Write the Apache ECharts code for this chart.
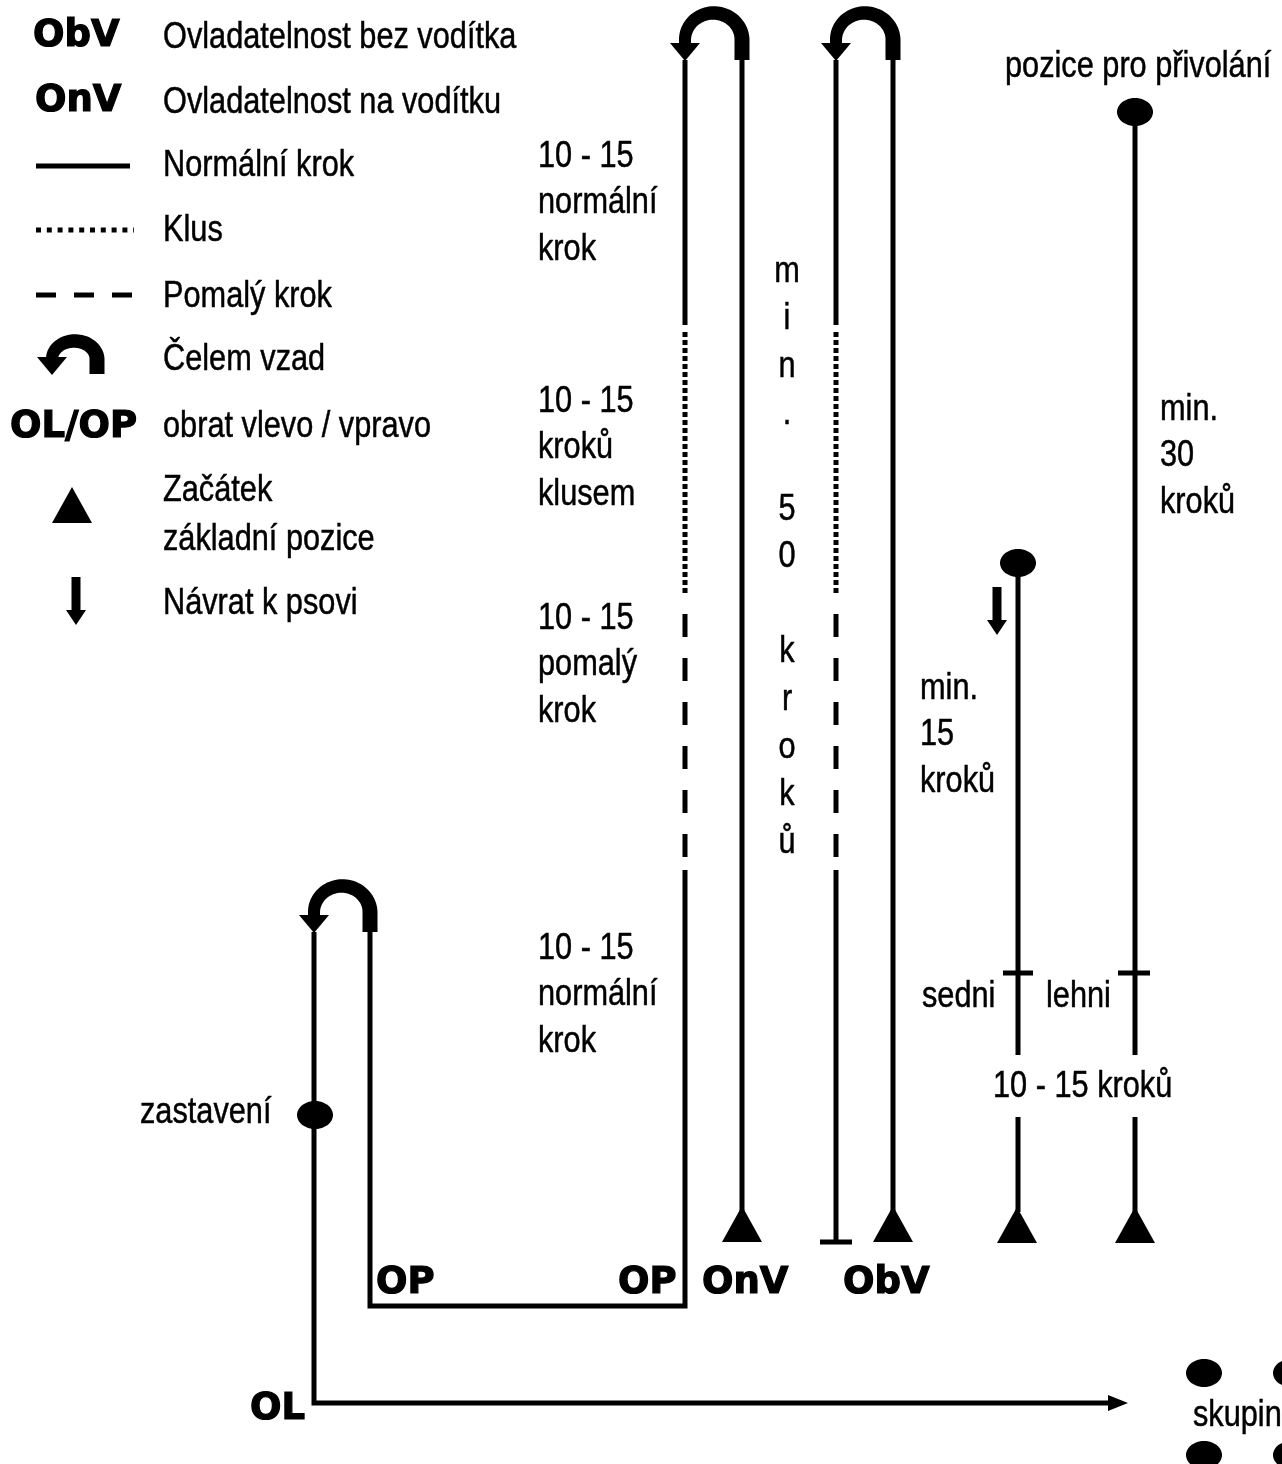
<!DOCTYPE html>
<html>
<head>
<meta charset="utf-8">
<script src="https://cdn.jsdelivr.net/npm/echarts@6/dist/echarts.min.js"></script>
<style>html,body{margin:0;padding:0;background:#fff}#c{width:1282px;height:1464px}</style>
</head>
<body>
<div id="c"></div>
<script>
// Diagram space: x 0..1282 (left→right), y 0..1464 (top→bottom)

// ---- route lines ----
const solidPaths = [
  [[36,166],[130,166]],
  [[314,932],[314,1403],[1110,1403]],
  [[370,932],[370,1306],[685,1306],[685,870]],
  [[685,325],[685,60]],
  [[742,60],[742,1212]],
  [[836,60],[836,325]],
  [[836,870],[836,1242]],
  [[820,1242],[852,1242]],
  [[893,60],[893,1212]],
  [[1018,563],[1018,1055]],
  [[1018,1117],[1018,1212]],
  [[1003,973],[1033,973]],
  [[1135,113],[1135,1055]],
  [[1135,1117],[1135,1212]],
  [[1118,973],[1150,973]]
];
const legendDotted = [[[36,230],[134,230]]];
const legendDashed = [[[36,295],[132,295]]];
const dottedPaths = [[[685,593],[685,330]], [[836,593],[836,330]]];
const dashedPaths = [[[685,857],[685,600]], [[836,857],[836,600]]];

// ---- symbols ----
const uTurns = [[685,742,7,60],[836,893,7,60],[314,370,880,932],[52,97,335,374]]; // left leg, right leg, top, bottom
const startTriangles = [[72,505],[742,1224],[893,1224],[1017,1225],[1135,1225]];
const stopBalls = [[315,1115],[1018,563],[1135,112],[1204,1373],[1291,1373],[1204,1455],[1291,1455]];
const downArrows = [[76,577,625],[997,587,635]]; // x, top, tip
const rightArrows = [[1128,1403]];

// ---- texts ----
const legendCodes = [[33,36,'ObV'],[35,101,'OnV'],[10,427,'OL/OP']];
const routeCodes = [[376,1283,'OP'],[618,1283,'OP'],[702,1283,'OnV'],[843,1283,'ObV'],[250,1409,'OL']];
const legendTexts = [
  [163,38,'Ovladatelnost bez vodítka'],[163,103,'Ovladatelnost na vodítku'],
  [163,166,'Normální krok'],[163,231,'Klus'],[163,297,'Pomalý krok'],
  [163,360,'Čelem vzad'],[163,427,'obrat vlevo / vpravo'],
  [163,491,'Začátek'],[163,540,'základní pozice'],[163,604,'Návrat k psovi']
];
const sectionNotes = [
  [538,203,'10 - 15\nnormální\nkrok'],
  [538,448,'10 - 15\nkroků\nklusem'],
  [538,665,'10 - 15\npomalý\nkrok'],
  [538,995,'10 - 15\nnormální\nkrok'],
  [920,735,'min.\n15\nkroků'],
  [1160,456,'min.\n30\nkroků']
];
const verticalNote = [[787,557,'m\ni\nn\n.\n \n5\n0\n \nk\nr\no\nk\nů']];
const plainLabels = [
  [1005,67,'pozice pro přivolání'],[922,997,'sedni'],[1046,997,'lehni'],
  [993,1087,'10 - 15 kroků'],[140,1113,'zastavení'],[1193,1416,'skupina']
];

// ---------------------------------------------------------------
const INK = '#000';
const NARROW = "37px 'Liberation Sans', Arial, sans-serif";
const HEAVY = "bold 37px 'DejaVu Sans', sans-serif";

function lineSeries(paths, lineType, width) {
  return paths.map(p => ({
    type: 'line', data: p, symbol: 'none', silent: true, z: 2,
    lineStyle: {color: INK, width: width, type: lineType, join: 'miter', cap: 'butt'}
  }));
}

function customSeries(items, build, z) {
  return {
    type: 'custom', coordinateSystem: 'cartesian2d', silent: true, z: z || 3,
    data: items.map(d => [d[0], d[1]]),
    renderItem: function (params, api) {
      const it = items[params.dataIndex];
      const c = pt => api.coord(pt);
      return build(it, c, api);
    }
  };
}

function textSeries(items, font, align, lineHeight, scaleX, strokeW) {
  return customSeries(items, function (it, c) {
    const p = c([it[0], it[1]]);
    return {
      type: 'text', x: p[0], y: p[1], scaleX: scaleX, scaleY: 1,
      style: {text: it[2], font: font, fill: INK, stroke: INK, lineWidth: strokeW,
        align: align, verticalAlign: 'middle', lineHeight: lineHeight}
    };
  }, 6);
}

function uTurnShape(it, c) {
  const L = it[0], R = it[1], top = it[2], bottom = it[3];
  const cx = (L + R) / 2, a = (R - L) / 2, yc = bottom - 0.38 * (bottom - top);
  const b = Math.max(yc - top - 6, 8);
  const hw0 = 7.5, hw1 = 6, n = 48;
  const outer = [], inner = [];
  for (let i = 0; i <= n; i++) {
    const th = Math.PI * i / n, hw = hw0 + (hw1 - hw0) * i / n;
    outer.push([cx + (a + hw) * Math.cos(th), yc - (b + hw) * Math.sin(th)]);
    inner.push([cx + (a - hw) * Math.cos(th), yc - (b - hw) * Math.sin(th)]);
  }
  const hb = bottom - 17;
  const body = [[R + hw0, bottom]].concat(outer, [[L - hw1, hb], [L + hw1, hb]], inner.reverse(), [[R - hw0, bottom]]);
  const head = [[L - 15, hb], [L + 15, hb], [L, bottom + 1]];
  return {type: 'group', children: [
    {type: 'polygon', shape: {points: body.map(c)}, style: {fill: INK}},
    {type: 'polygon', shape: {points: head.map(c)}, style: {fill: INK}}
  ]};
}

function triangleShape(it, c) {
  const x = it[0], y = it[1], w = 40, h = 36;
  return {type: 'polygon', shape: {points: [[x, y - h / 2], [x + w / 2, y + h / 2], [x - w / 2, y + h / 2]].map(c)}, style: {fill: INK}};
}

function ballShape(it, c) {
  const pts = [];
  for (let i = 0; i < 48; i++) {
    const t = 2 * Math.PI * i / 48;
    pts.push(c([it[0] + 18 * Math.cos(t), it[1] + 14 * Math.sin(t)]));
  }
  return {type: 'polygon', shape: {points: pts}, style: {fill: INK}};
}

function downArrowShape(it, c) {
  const x = it[0], top = it[1], tip = it[2];
  const pts = [[x - 4.5, top], [x + 4.5, top], [x + 4.5, tip - 15], [x + 10, tip - 15], [x, tip], [x - 10, tip - 15], [x - 4.5, tip - 15]];
  return {type: 'polygon', shape: {points: pts.map(c)}, style: {fill: INK}};
}

function rightArrowShape(it, c) {
  const x = it[0], y = it[1];
  const pts = [[x - 20, y - 8], [x, y], [x - 20, y + 8]];
  return {type: 'polygon', shape: {points: pts.map(c)}, style: {fill: INK}};
}

const series = [].concat(
  lineSeries(solidPaths, 'solid', 5),
  lineSeries(legendDotted, [5, 5.8], 5),
  lineSeries(legendDashed, [20, 18], 5),
  lineSeries(dottedPaths, [5, 3], 5),
  lineSeries(dashedPaths, [23, 21], 5),
  [
    customSeries(uTurns, uTurnShape, 4),
    customSeries(startTriangles, triangleShape, 4),
    customSeries(stopBalls, ballShape, 4),
    customSeries(downArrows, downArrowShape, 4),
    customSeries(rightArrows, rightArrowShape, 4),
    textSeries(legendCodes, HEAVY, 'left', 40, 1, 1.2),
    textSeries(routeCodes, HEAVY, 'left', 40, 1, 1.2),
    textSeries(legendTexts, NARROW, 'left', 46, 0.83, 0.5),
    textSeries(sectionNotes, NARROW, 'left', 46.5, 0.83, 0.5),
    textSeries(plainLabels, NARROW, 'left', 46, 0.83, 0.5),
    textSeries(verticalNote, NARROW, 'center', 47.6, 0.83, 0.5)
  ]
);

const chart = echarts.init(document.getElementById('c'), null, {renderer: 'canvas'});
chart.setOption({
  animation: false,
  backgroundColor: '#fff',
  grid: {left: 0, right: 0, top: 0, bottom: 0},
  xAxis: {type: 'value', min: 0, max: 1282, show: false},
  yAxis: {type: 'value', min: 0, max: 1464, inverse: true, show: false},
  tooltip: {show: false},
  series: series
});
</script>
</body>
</html>
